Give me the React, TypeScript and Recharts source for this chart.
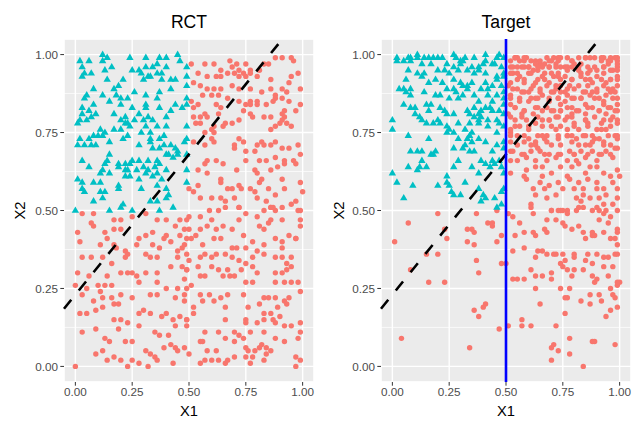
import React from 'react';
import { ScatterChart, Scatter, XAxis, YAxis, CartesianGrid, ReferenceLine } from 'recharts';

const majorTicks = [0, 0.25, 0.5, 0.75, 1];
const minorTicks = [0.125, 0.375, 0.625, 0.875];
const tickLabels = ['0.00', '0.25', '0.50', '0.75', '1.00'];
const panelTitles = ['RCT', 'Target'];
const xTitle = 'X1';
const yTitle = 'X2';
const lineIntercept = 0.23;
const lineSlope = 0.9;
const targetCut = 0.5;

const rctTeal: number[][] = [
  [0.02,0.98],[0.06,0.98],[0.12,1.00],[0.14,0.99],[0.24,0.99],[0.31,0.99],[0.37,0.99],[0.40,0.99],[0.45,1.00],[0.46,0.98],
  [0.03,0.96],[0.12,0.98],[0.16,0.96],[0.25,0.95],[0.28,0.95],[0.31,0.96],[0.34,0.96],[0.36,0.97],[0.40,0.96],
  [0.04,0.94],[0.07,0.94],[0.03,0.93],[0.13,0.95],[0.29,0.94],[0.32,0.93],[0.36,0.94],[0.38,0.94],[0.42,0.92],[0.44,0.92],[0.38,0.92],[0.33,0.93],
  [0.14,0.92],[0.21,0.92],[0.30,0.92],
  [0.08,0.89],[0.17,0.89],[0.19,0.90],[0.26,0.88],[0.37,0.88],[0.42,0.89],[0.49,0.90],
  [0.05,0.87],[0.04,0.86],[0.12,0.87],[0.18,0.87],[0.20,0.86],[0.23,0.86],[0.31,0.87],[0.36,0.86],
  [0.08,0.84],[0.15,0.85],[0.20,0.84],[0.31,0.84],[0.44,0.84],[0.47,0.83],[0.49,0.84],
  [0.03,0.83],[0.03,0.81],[0.06,0.82],[0.09,0.81],[0.25,0.83],[0.28,0.81],[0.31,0.83],[0.32,0.80],[0.37,0.83],[0.40,0.80],[0.42,0.82],
  [0.02,0.79],[0.07,0.80],[0.17,0.81],[0.22,0.80],[0.20,0.79],[0.23,0.78],[0.24,0.77],[0.26,0.79],[0.30,0.79],[0.34,0.79],[0.36,0.77],[0.40,0.77],
  [0.01,0.78],[0.05,0.79],[0.22,0.78],[0.31,0.77],
  [0.11,0.76],[0.13,0.75],[0.08,0.74],[0.10,0.74],[0.17,0.76],[0.20,0.76],[0.29,0.75],[0.33,0.75],[0.37,0.73],
  [0.02,0.73],[0.06,0.73],[0.12,0.74],[0.15,0.72],[0.21,0.73],[0.23,0.74],[0.33,0.73],[0.39,0.74],[0.39,0.71],[0.42,0.71],[0.44,0.70],
  [0.01,0.71],[0.04,0.71],[0.07,0.71],[0.09,0.71],[0.28,0.71],[0.33,0.72],[0.34,0.70],[0.37,0.70],[0.45,0.69],[0.41,0.68],
  [0.03,0.66],[0.15,0.68],[0.14,0.66],[0.13,0.65],[0.19,0.65],[0.22,0.65],[0.25,0.66],[0.24,0.65],[0.28,0.66],[0.32,0.66],[0.36,0.66],[0.40,0.68],[0.43,0.67],[0.45,0.68],
  [0.06,0.64],[0.12,0.63],[0.19,0.64],[0.22,0.63],[0.30,0.64],[0.32,0.63],[0.35,0.64],[0.37,0.65],
  [0.11,0.62],[0.15,0.62],[0.23,0.63],[0.27,0.63],[0.31,0.62],[0.36,0.62],[0.40,0.63],
  [0.01,0.60],[0.03,0.59],[0.08,0.59],[0.11,0.59],[0.19,0.58],[0.22,0.61],[0.24,0.61],[0.28,0.60],[0.34,0.61],[0.38,0.60],
  [0.03,0.57],[0.04,0.56],[0.11,0.56],[0.13,0.56],[0.19,0.57],[0.29,0.57],[0.36,0.58],[0.40,0.57],[0.41,0.55],
  [0.08,0.53],[0.12,0.54],[0.21,0.52],[0.33,0.53],[0.36,0.53],[0.40,0.54],
  [0.00,0.50],[0.15,0.50],[0.20,0.51],[0.25,0.50],[0.37,0.50],[0.43,0.51],
  [0.49,0.96],[0.49,0.93],[0.49,0.86],[0.49,0.77],[0.49,0.73],[0.48,0.72],[0.49,0.68],[0.49,0.63],[0.49,0.59],
];

const rctRed: number[][] = [
  [0.88,0.99],[0.91,0.99],[0.95,0.99],[0.96,0.98],
  [0.51,0.97],[0.57,0.97],[0.61,0.97],[0.64,0.95],[0.68,0.98],[0.69,0.96],[0.71,0.97],[0.75,0.97],[0.77,0.95],[0.81,0.95],[0.83,0.97],[0.85,0.97],[0.72,0.95],[0.70,0.94],[0.74,0.94],
  [0.54,0.94],[0.58,0.93],[0.62,0.93],[0.64,0.93],[0.67,0.94],[0.72,0.93],[0.75,0.93],[0.77,0.94],[0.80,0.93],[0.86,0.92],[0.95,0.93],[0.98,0.94],[0.94,0.91],
  [0.52,0.91],[0.55,0.90],[0.58,0.89],[0.61,0.89],[0.64,0.89],[0.69,0.90],[0.72,0.89],[0.77,0.89],[0.82,0.88],[0.86,0.89],[0.91,0.89],[0.93,0.88],[0.99,0.89],
  [0.56,0.87],[0.60,0.87],[0.63,0.87],[0.67,0.86],[0.77,0.85],[0.80,0.85],[0.88,0.87],[0.88,0.86],[0.91,0.86],[0.87,0.85],[0.94,0.85],
  [0.51,0.85],[0.54,0.84],[0.62,0.84],[0.64,0.83],[0.72,0.85],[0.75,0.84],[0.77,0.84],[0.80,0.84],[0.84,0.84],[0.99,0.84],[0.52,0.83],[0.97,0.82],[0.92,0.82],[0.91,0.81],[0.52,0.80],[0.57,0.81],[0.63,0.81],[0.74,0.82],[0.77,0.81],
  [0.55,0.80],[0.58,0.80],[0.66,0.78],[0.69,0.78],[0.72,0.79],[0.78,0.80],[0.83,0.80],[0.86,0.80],[0.92,0.80],[0.53,0.78],[0.55,0.78],[0.61,0.77],[0.65,0.77],[0.88,0.77],[0.90,0.78],[0.93,0.78],[0.91,0.79],[0.95,0.77],[0.57,0.75],[0.60,0.76],[0.61,0.75],[0.86,0.76],
  [0.60,0.73],[0.61,0.72],[0.57,0.71],[0.52,0.72],[0.70,0.71],[0.72,0.73],[0.74,0.72],[0.82,0.72],[0.86,0.71],[0.83,0.71],[0.80,0.71],[0.88,0.72],[0.70,0.70],[0.75,0.69],[0.79,0.69],[0.98,0.71],[0.99,0.68],[0.91,0.70],[0.94,0.70],
  [0.58,0.66],[0.62,0.66],[0.65,0.65],[0.57,0.65],[0.75,0.66],[0.81,0.66],[0.84,0.66],[0.88,0.67],[0.92,0.66],[0.97,0.65],[0.54,0.63],[0.58,0.62],[0.71,0.63],[0.79,0.63],[0.80,0.62],[0.86,0.63],[0.89,0.64],[0.92,0.65],[0.96,0.66],
  [0.50,0.57],[0.54,0.58],[0.52,0.56],[0.64,0.60],[0.64,0.59],[0.67,0.57],[0.69,0.57],[0.72,0.58],[0.73,0.57],[0.81,0.59],[0.82,0.60],[0.77,0.57],[0.85,0.57],[0.88,0.55],[0.91,0.60],[0.92,0.57],[0.99,0.59],[1.00,0.56],[0.79,0.56],
  [0.55,0.54],[0.60,0.54],[0.64,0.54],[0.66,0.53],[0.70,0.54],[0.72,0.51],[0.80,0.54],[0.84,0.53],[0.86,0.51],[0.95,0.52],[0.97,0.53],[0.99,0.50],[0.88,0.50],
  [0.03,0.49],[0.08,0.49],[0.17,0.47],[0.20,0.47],[0.25,0.48],[0.31,0.49],[0.36,0.47],[0.40,0.47],[0.46,0.47],[0.49,0.47],
  [0.01,0.43],[0.07,0.46],[0.08,0.45],[0.13,0.43],[0.17,0.44],[0.20,0.44],[0.28,0.41],[0.31,0.42],[0.34,0.43],[0.39,0.41],[0.40,0.42],[0.44,0.45],[0.46,0.42],[0.48,0.44],
  [0.02,0.40],[0.11,0.39],[0.14,0.41],[0.17,0.39],[0.18,0.38],[0.22,0.37],[0.23,0.36],[0.27,0.39],[0.34,0.39],[0.37,0.38],[0.42,0.40],[0.45,0.37],[0.47,0.38],[0.49,0.41],
  [0.03,0.35],[0.07,0.35],[0.12,0.35],[0.16,0.33],[0.22,0.35],[0.31,0.36],[0.33,0.35],[0.36,0.35],[0.45,0.35],[0.49,0.36],
  [0.01,0.30],[0.06,0.29],[0.14,0.29],[0.20,0.30],[0.23,0.30],[0.25,0.30],[0.27,0.29],[0.31,0.30],[0.36,0.30],[0.42,0.32],[0.47,0.32],[0.49,0.31],
  [0.00,0.26],[0.05,0.25],[0.10,0.26],[0.11,0.24],[0.13,0.26],[0.16,0.26],[0.20,0.23],[0.28,0.27],[0.36,0.27],[0.40,0.25],[0.45,0.25],[0.49,0.25],
  [0.03,0.23],[0.08,0.21],[0.12,0.22],[0.16,0.22],[0.17,0.20],[0.19,0.20],[0.25,0.22],[0.33,0.23],[0.36,0.23],[0.44,0.22],[0.48,0.23],
  [0.02,0.17],[0.05,0.17],[0.09,0.18],[0.12,0.19],[0.17,0.15],[0.20,0.15],[0.23,0.14],[0.28,0.17],[0.30,0.18],[0.33,0.17],[0.38,0.16],[0.40,0.17],[0.43,0.15],[0.46,0.16],[0.49,0.15],
  [0.03,0.11],[0.09,0.12],[0.13,0.09],[0.15,0.08],[0.19,0.12],[0.22,0.08],[0.25,0.08],[0.28,0.13],[0.35,0.11],[0.37,0.10],[0.41,0.10],[0.44,0.13],[0.49,0.13],
  [0.09,0.04],[0.12,0.05],[0.14,0.02],[0.17,0.03],[0.20,0.02],[0.25,0.02],[0.31,0.05],[0.33,0.04],[0.35,0.03],[0.39,0.06],[0.42,0.07],[0.44,0.06],[0.45,0.05],[0.48,0.06],
  [0.00,0.00],[0.23,0.00],[0.28,0.01],[0.32,0.00],[0.36,0.02],[0.43,0.01],
  [0.50,0.48],[0.55,0.48],[0.59,0.50],[0.63,0.50],[0.66,0.51],[0.72,0.51],[0.75,0.49],[0.80,0.48],[0.83,0.50],[0.86,0.51],[0.87,0.51],[0.91,0.51],[0.98,0.50],[0.99,0.47],[0.60,0.47],
  [0.50,0.44],[0.55,0.44],[0.58,0.45],[0.62,0.44],[0.65,0.45],[0.69,0.44],[0.72,0.47],[0.74,0.42],[0.81,0.45],[0.83,0.44],[0.85,0.46],[0.86,0.47],[0.91,0.47],[0.94,0.42],[0.97,0.41],[0.99,0.45],
  [0.51,0.41],[0.53,0.42],[0.56,0.39],[0.61,0.41],[0.64,0.41],[0.69,0.38],[0.71,0.38],[0.75,0.38],[0.78,0.40],[0.80,0.37],[0.83,0.39],[0.88,0.41],[0.91,0.40],[0.91,0.38],[0.97,0.41],
  [0.48,0.39],[0.50,0.34],[0.55,0.35],[0.57,0.36],[0.60,0.35],[0.62,0.36],[0.66,0.36],[0.69,0.35],[0.72,0.34],[0.75,0.33],[0.78,0.35],[0.83,0.36],[0.88,0.35],[0.91,0.35],[0.93,0.33],[0.95,0.35],
  [0.49,0.31],[0.54,0.32],[0.60,0.32],[0.63,0.31],[0.67,0.31],[0.73,0.31],[0.78,0.32],[0.80,0.30],[0.88,0.30],[0.91,0.30],[0.93,0.31],[0.95,0.32],
  [0.55,0.29],[0.57,0.29],[0.65,0.29],[0.68,0.29],[0.70,0.29],[0.75,0.27],[0.78,0.27],[0.88,0.27],[0.92,0.27],[0.95,0.27],[0.98,0.27],
  [0.48,0.28],[0.51,0.26],[0.55,0.23],[0.59,0.23],[0.64,0.22],[0.67,0.23],[0.74,0.23],[0.83,0.22],[0.85,0.22],[0.88,0.22],[0.92,0.21],[0.94,0.22],[0.99,0.24],
  [0.48,0.21],[0.52,0.19],[0.52,0.17],[0.56,0.21],[0.61,0.21],[0.66,0.19],[0.75,0.15],[0.76,0.19],[0.81,0.20],[0.83,0.17],[0.86,0.17],[0.89,0.19],[0.90,0.16],[0.93,0.20],
  [0.49,0.15],[0.57,0.11],[0.63,0.11],[0.66,0.15],[0.70,0.11],[0.72,0.10],[0.75,0.14],[0.77,0.11],[0.80,0.14],[0.83,0.15],[0.83,0.11],[0.87,0.15],[0.88,0.14],[0.92,0.13],[0.95,0.13],[0.99,0.14],[0.99,0.11],
  [0.55,0.08],[0.56,0.08],[0.58,0.05],[0.62,0.05],[0.66,0.09],[0.70,0.08],[0.74,0.09],[0.75,0.06],[0.76,0.05],[0.79,0.05],[0.81,0.06],[0.82,0.07],[0.84,0.06],[0.86,0.05],[0.88,0.09],[0.92,0.08],[0.98,0.09],
  [0.50,0.04],[0.55,0.01],[0.57,0.02],[0.60,0.02],[0.63,0.02],[0.66,0.01],[0.67,0.02],[0.70,0.03],[0.75,0.03],[0.77,0.01],[0.78,0.03],[0.83,0.02],[0.84,0.04],[0.97,0.00],[0.97,0.03],[0.99,0.02],
];

const targetTeal: number[][] = [
  [0.02,0.99],[0.02,0.98],[0.07,0.99],[0.08,0.99],[0.11,1.00],[0.11,0.99],[0.14,0.99],[0.16,0.99],[0.18,0.99],[0.20,0.99],[0.22,0.99],[0.27,1.00],[0.28,0.99],[0.30,0.98],[0.32,0.99],[0.36,0.99],[0.41,1.00],[0.41,0.98],[0.46,0.99],[0.47,1.00],
  [0.05,0.98],[0.08,0.98],[0.13,0.97],[0.17,0.97],[0.24,0.97],[0.27,0.96],[0.30,0.97],[0.31,0.98],[0.35,0.96],[0.38,0.96],[0.40,0.97],[0.44,0.97],[0.45,0.97],[0.48,0.96],
  [0.07,0.95],[0.11,0.94],[0.14,0.94],[0.13,0.93],[0.20,0.95],[0.23,0.95],[0.19,0.92],[0.25,0.94],[0.29,0.95],[0.27,0.92],[0.33,0.95],[0.36,0.94],[0.38,0.95],[0.41,0.94],[0.46,0.92],[0.46,0.93],[0.49,0.94],
  [0.06,0.92],[0.16,0.91],[0.22,0.91],[0.30,0.91],[0.33,0.90],[0.35,0.91],[0.41,0.91],[0.44,0.90],[0.48,0.90],[0.24,0.89],[0.27,0.89],[0.28,0.88],[0.31,0.90],[0.33,0.89],[0.39,0.89],[0.42,0.89],
  [0.05,0.89],[0.03,0.89],[0.06,0.88],[0.08,0.89],[0.08,0.87],[0.14,0.88],[0.19,0.87],[0.21,0.87],[0.29,0.86],[0.31,0.87],[0.36,0.87],[0.38,0.85],[0.42,0.87],[0.44,0.85],[0.46,0.87],[0.49,0.86],[0.25,0.86],
  [0.05,0.84],[0.08,0.83],[0.10,0.83],[0.15,0.84],[0.17,0.84],[0.16,0.82],[0.21,0.83],[0.24,0.81],[0.23,0.82],[0.27,0.81],[0.33,0.82],[0.34,0.81],[0.36,0.83],[0.39,0.82],[0.41,0.83],[0.43,0.83],[0.44,0.82],[0.47,0.82],[0.49,0.84],[0.49,0.81],[0.10,0.81],[0.12,0.80],[0.36,0.80],[0.38,0.81],[0.39,0.80],
  [0.13,0.79],[0.15,0.78],[0.18,0.78],[0.20,0.79],[0.21,0.78],[0.24,0.77],[0.25,0.76],[0.24,0.75],[0.29,0.78],[0.34,0.78],[0.38,0.78],[0.38,0.79],[0.42,0.79],[0.46,0.79],[0.47,0.78],[0.00,0.79],[0.00,0.76],[0.32,0.76],[0.35,0.75],[0.42,0.77],[0.46,0.75],[0.27,0.75],
  [0.07,0.74],[0.16,0.73],[0.18,0.68],[0.19,0.69],[0.08,0.69],[0.11,0.69],[0.13,0.69],[0.29,0.73],[0.33,0.73],[0.34,0.74],[0.35,0.72],[0.38,0.73],[0.32,0.71],[0.36,0.69],[0.44,0.69],[0.41,0.72],[0.46,0.71],[0.49,0.72],[0.27,0.70],[0.31,0.70],[0.34,0.69],
  [0.13,0.66],[0.17,0.68],[0.12,0.64],[0.07,0.64],[0.11,0.63],[0.15,0.64],[0.29,0.66],[0.27,0.64],[0.35,0.64],[0.38,0.62],[0.44,0.66],[0.41,0.65],[0.43,0.64],[0.45,0.65],[0.47,0.66],[0.48,0.64],[0.39,0.66],[0.00,0.62],
  [0.02,0.59],[0.09,0.58],[0.20,0.58],[0.24,0.61],[0.24,0.59],[0.25,0.58],[0.26,0.56],[0.32,0.59],[0.27,0.55],[0.30,0.55],[0.38,0.57],[0.40,0.55],[0.41,0.54],[0.45,0.54],[0.48,0.56],[0.05,0.54],[0.39,0.53],
  [0.46,0.51],[0.48,0.52],[0.49,0.99],[0.49,0.93],[0.49,0.88],[0.49,0.77],[0.49,0.70],[0.49,0.62],[0.49,0.57],
];

const targetRed: number[][] = [
  [0.54,0.99],[0.55,0.99],[0.58,0.98],[0.59,0.99],[0.63,0.98],[0.68,0.99],[0.71,0.99],[0.73,0.99],[0.74,0.99],[0.77,0.99],[0.79,0.98],[0.82,0.99],[0.85,0.99],[0.89,0.99],[0.93,0.99],[0.96,0.99],[0.99,0.99],[0.99,0.98],[0.52,0.98],[0.65,0.97],[0.69,0.98],[0.80,0.97],[0.92,0.98],[0.96,0.98],
  [0.52,0.96],[0.55,0.96],[0.58,0.96],[0.60,0.96],[0.62,0.95],[0.66,0.96],[0.69,0.96],[0.72,0.97],[0.74,0.96],[0.77,0.96],[0.79,0.96],[0.82,0.96],[0.86,0.96],[0.89,0.96],[0.93,0.96],[0.95,0.97],[0.99,0.96],[0.64,0.95],[0.77,0.95],[0.87,0.95],[0.97,0.95],
  [0.53,0.94],[0.56,0.93],[0.60,0.94],[0.64,0.92],[0.67,0.94],[0.71,0.93],[0.73,0.94],[0.76,0.93],[0.79,0.92],[0.83,0.94],[0.85,0.92],[0.90,0.93],[0.93,0.94],[0.96,0.92],[0.99,0.93],[0.52,0.91],[0.58,0.91],[0.69,0.91],[0.82,0.90],[0.88,0.91],[0.94,0.91],
  [0.51,0.90],[0.55,0.89],[0.62,0.90],[0.65,0.89],[0.68,0.90],[0.72,0.89],[0.74,0.90],[0.78,0.90],[0.86,0.90],[0.90,0.89],[0.93,0.90],[0.97,0.89],[0.99,0.90],[0.57,0.88],[0.60,0.88],[0.71,0.88],[0.76,0.88],[0.84,0.88],[0.88,0.88],[0.96,0.88],
  [0.52,0.87],[0.56,0.86],[0.63,0.86],[0.66,0.87],[0.69,0.86],[0.73,0.86],[0.77,0.87],[0.80,0.86],[0.83,0.86],[0.87,0.87],[0.91,0.86],[0.94,0.87],[0.99,0.86],[0.52,0.84],[0.60,0.85],[0.74,0.84],[0.85,0.84],[0.93,0.84],
  [0.54,0.83],[0.58,0.82],[0.64,0.83],[0.68,0.83],[0.70,0.82],[0.74,0.82],[0.77,0.83],[0.79,0.83],[0.82,0.82],[0.88,0.83],[0.91,0.82],[0.96,0.83],[0.99,0.82],[0.51,0.81],[0.57,0.81],[0.62,0.81],[0.72,0.80],[0.79,0.81],[0.85,0.81],[0.94,0.81],
  [0.54,0.79],[0.59,0.79],[0.63,0.78],[0.66,0.79],[0.69,0.79],[0.76,0.79],[0.80,0.78],[0.85,0.79],[0.86,0.78],[0.92,0.78],[0.96,0.79],[0.99,0.78],[0.52,0.76],[0.56,0.77],[0.60,0.76],[0.72,0.76],[0.77,0.76],[0.82,0.76],[0.90,0.76],[0.94,0.76],[0.52,0.75],
  [0.55,0.74],[0.60,0.73],[0.66,0.74],[0.68,0.74],[0.73,0.73],[0.77,0.74],[0.81,0.73],[0.85,0.74],[0.88,0.74],[0.91,0.73],[0.98,0.74],[0.99,0.73],[0.52,0.72],[0.58,0.72],[0.63,0.72],[0.68,0.72],[0.79,0.72],[0.85,0.71],[0.88,0.72],[0.93,0.72],[0.96,0.71],[0.99,0.70],[0.63,0.71],
  [0.52,0.69],[0.57,0.68],[0.61,0.69],[0.65,0.69],[0.69,0.68],[0.74,0.68],[0.78,0.69],[0.80,0.68],[0.83,0.69],[0.88,0.69],[0.91,0.68],[0.94,0.69],[0.55,0.66],[0.59,0.67],[0.63,0.66],[0.68,0.66],[0.72,0.67],[0.77,0.66],[0.81,0.66],[0.85,0.67],[0.90,0.66],[0.97,0.67],[0.52,0.66],
  [0.52,0.62],[0.59,0.63],[0.63,0.64],[0.66,0.64],[0.70,0.62],[0.74,0.64],[0.79,0.64],[0.82,0.65],[0.87,0.64],[0.90,0.64],[0.93,0.62],[0.99,0.63],[1.00,0.61],[0.58,0.61],[0.66,0.61],[0.77,0.61],[0.85,0.62],[0.96,0.61],
  [0.59,0.60],[0.65,0.59],[0.69,0.58],[0.73,0.59],[0.78,0.60],[0.82,0.59],[0.86,0.60],[0.90,0.59],[0.93,0.57],[0.97,0.59],[0.62,0.57],[0.67,0.57],[0.75,0.57],[0.80,0.57],[0.84,0.57],[0.90,0.57],[0.99,0.57],
  [0.63,0.55],[0.68,0.54],[0.72,0.55],[0.81,0.54],[0.84,0.55],[0.87,0.54],[0.91,0.54],[0.94,0.55],[0.99,0.54],[0.61,0.52],[0.70,0.50],[0.74,0.50],[0.77,0.50],[0.83,0.53],[0.93,0.52],[0.97,0.52],[0.88,0.50],
  [0.07,0.46],[0.20,0.49],[0.37,0.49],[0.42,0.46],[0.44,0.45],[0.44,0.46],[0.46,0.50],[0.33,0.44],[0.35,0.44],[0.36,0.43],[0.23,0.44],[0.24,0.41],[0.33,0.40],[0.36,0.39],[0.46,0.40],[0.48,0.42],[0.01,0.40],[0.15,0.36],[0.20,0.36],[0.37,0.34],[0.48,0.33],[0.08,0.31],[0.38,0.30],[0.16,0.27],[0.23,0.27],[0.41,0.20],[0.36,0.18],[0.40,0.19],[0.38,0.16],[0.47,0.12],[0.04,0.09],[0.34,0.06],
  [0.61,0.51],[0.70,0.50],[0.73,0.50],[0.75,0.50],[0.77,0.49],[0.81,0.50],[0.82,0.51],[0.84,0.51],[0.90,0.51],[0.91,0.50],[0.94,0.50],[0.99,0.50],[0.51,0.49],[0.53,0.48],[0.62,0.49],[0.68,0.47],[0.72,0.47],[0.75,0.46],[0.76,0.45],[0.79,0.44],[0.82,0.45],[0.84,0.43],[0.88,0.42],[0.91,0.47],[0.93,0.49],[0.96,0.48],[0.95,0.46],[0.56,0.46],
  [0.54,0.42],[0.58,0.43],[0.62,0.43],[0.63,0.42],[0.67,0.44],[0.68,0.43],[0.85,0.41],[0.88,0.43],[0.89,0.42],[0.93,0.43],[0.96,0.41],[0.98,0.41],[0.99,0.44],[0.99,0.43],[0.99,0.39],
  [0.50,0.33],[0.53,0.37],[0.58,0.38],[0.64,0.37],[0.66,0.37],[0.68,0.36],[0.71,0.36],[0.72,0.36],[0.75,0.36],[0.74,0.33],[0.76,0.34],[0.80,0.36],[0.80,0.35],[0.86,0.36],[0.90,0.36],[0.88,0.33],[0.93,0.35],[0.95,0.35],[0.98,0.36],[0.99,0.36],
  [0.75,0.32],[0.77,0.31],[0.85,0.34],[0.84,0.31],[0.80,0.31],[0.79,0.29],[0.93,0.32],[0.97,0.32],[0.63,0.35],[0.61,0.31],[0.63,0.29],[0.66,0.29],[0.70,0.30],[0.70,0.28],[0.53,0.28],[0.55,0.28],[0.58,0.28],
  [0.88,0.29],[0.90,0.28],[0.89,0.27],[0.95,0.29],[1.00,0.27],[0.99,0.26],[0.99,0.27],[0.96,0.25],[0.63,0.25],[0.74,0.25],[0.78,0.25],[0.76,0.22],[0.77,0.22],[0.87,0.23],[0.91,0.23],[0.97,0.23],[0.98,0.22],
  [0.83,0.21],[0.87,0.20],[0.92,0.21],[0.96,0.18],[0.94,0.16],[0.99,0.19],[0.65,0.20],[0.76,0.17],[0.57,0.15],[0.57,0.13],[0.61,0.13],[0.51,0.13],[0.72,0.13],[0.78,0.09],[0.88,0.08],[0.89,0.08],[0.98,0.07],[0.70,0.06],[0.71,0.07],[0.73,0.05],[0.78,0.04],[0.70,0.02],[0.84,0.00],
  [0.54,0.99],[0.56,0.98],[0.58,0.99],[0.61,0.98],[0.63,0.97],[0.65,0.98],[0.67,0.97],[0.70,0.98],[0.73,0.98],[0.53,0.96],[0.57,0.96],[0.60,0.96],[0.64,0.96],[0.69,0.96],[0.72,0.96],[0.76,0.96],[0.52,0.94],[0.55,0.94],[0.61,0.94],[0.66,0.93],[0.70,0.94],[0.73,0.93],[0.55,0.92],[0.58,0.92],[0.63,0.91],[0.67,0.92],[0.72,0.90],[0.74,0.92],
  [0.53,0.89],[0.58,0.88],[0.61,0.89],[0.65,0.88],[0.70,0.88],[0.74,0.88],[0.77,0.89],[0.52,0.86],[0.56,0.85],[0.61,0.86],[0.64,0.86],[0.69,0.85],[0.73,0.86],[0.76,0.85],[0.54,0.83],[0.58,0.82],[0.63,0.83],[0.66,0.82],[0.71,0.82],[0.74,0.82],
  [0.52,0.80],[0.57,0.80],[0.64,0.80],[0.69,0.79],[0.73,0.80],[0.77,0.80],[0.54,0.77],[0.60,0.77],[0.66,0.77],[0.70,0.77],[0.74,0.77],[0.52,0.74],[0.58,0.74],[0.64,0.74],[0.67,0.73],[0.73,0.74],[0.77,0.74],[0.55,0.71],[0.61,0.71],[0.64,0.70],[0.70,0.71],[0.74,0.71],[0.53,0.69],[0.58,0.68],[0.67,0.68],[0.73,0.68],
  [0.79,0.98],[0.83,0.97],[0.85,0.99],[0.87,0.99],[0.92,0.99],[0.95,0.98],[0.98,0.99],[0.99,0.97],[0.82,0.95],[0.86,0.94],[0.90,0.95],[0.93,0.96],[0.96,0.95],[0.99,0.95],[0.79,0.92],[0.83,0.93],[0.87,0.92],[0.92,0.92],[0.96,0.92],[0.99,0.92],
  [0.80,0.89],[0.85,0.88],[0.90,0.88],[0.95,0.89],[0.98,0.88],[0.79,0.86],[0.83,0.86],[0.89,0.86],[0.93,0.85],[0.97,0.86],[0.99,0.84],[0.81,0.82],[0.86,0.83],[0.91,0.82],[0.95,0.83],[0.98,0.82],[0.79,0.80],[0.85,0.79],[0.89,0.80],[0.93,0.79],[0.97,0.80],[0.99,0.79],
  [0.80,0.77],[0.86,0.77],[0.92,0.76],[0.96,0.77],[0.79,0.74],[0.84,0.74],[0.89,0.73],[0.95,0.74],[0.99,0.74],[0.82,0.71],[0.87,0.71],[0.93,0.71],[0.98,0.70],[0.80,0.68],[0.86,0.68],[0.92,0.68],[0.96,0.68],
];

const RED = '#F8766D';
const TEAL = '#00BFC4';
const FONT = '"Liberation Sans", Arial, sans-serif';
const DOMAIN: [number, number] = [-0.05, 1.05];

const toPoints = (arr: number[][]) => arr.map(([x, y]) => ({ x, y }));

const DotShape = (props: any) => {
  const { cx, cy } = props;
  if (cx == null || cy == null) return null;
  return <circle cx={cx} cy={cy} r={2.7} fill={RED} />;
};

const TriShape = (props: any) => {
  const { cx, cy } = props;
  if (cx == null || cy == null) return null;
  const pts = `${cx},${cy - 4.1} ${cx - 3.7},${cy + 2.3} ${cx + 3.7},${cy + 2.3}`;
  return <polygon points={pts} fill={TEAL} />;
};

const fmt = (v: number) => {
  const i = majorTicks.indexOf(v);
  return i >= 0 ? tickLabels[i] : '';
};

type PanelProps = {
  red: number[][];
  teal: number[][];
  showCut: boolean;
  width: number;
  left: number;
  marginLeft: number;
  marginRight: number;
};

const Panel = ({ red, teal, showCut, width, left, marginLeft, marginRight }: PanelProps) => {
  const lineStart = { x: DOMAIN[0], y: lineIntercept + lineSlope * DOMAIN[0] };
  const lineEnd = { x: (DOMAIN[1] - lineIntercept) / lineSlope, y: DOMAIN[1] };
  const tickStyle = { fill: '#4D4D4D', fontSize: 11.7, fontFamily: FONT };
  return (
    <div style={{ position: 'absolute', left, top: 0 }}>
      <ScatterChart
        width={width}
        height={425}
        margin={{ top: 39, right: marginRight, bottom: 13, left: marginLeft }}
      >
        <CartesianGrid fill="#EBEBEB" stroke="#FFFFFF" strokeWidth={1.4} />
        <CartesianGrid xAxisId="minor" yAxisId="minor" stroke="#FFFFFF" strokeWidth={0.7} />
        <XAxis
          dataKey="x"
          type="number"
          domain={DOMAIN}
          allowDataOverflow
          ticks={majorTicks}
          interval={0}
          tickFormatter={fmt}
          axisLine={false}
          tickLine={{ stroke: '#333333', strokeWidth: 1 }}
          tickSize={3.7}
          tickMargin={2}
          tick={tickStyle}
          height={30}
        />
        <YAxis
          dataKey="y"
          type="number"
          domain={DOMAIN}
          allowDataOverflow
          ticks={majorTicks}
          interval={0}
          tickFormatter={fmt}
          axisLine={false}
          tickLine={{ stroke: '#333333', strokeWidth: 1 }}
          tickSize={3.7}
          tickMargin={2.2}
          tick={tickStyle}
          width={40}
        />
        <XAxis xAxisId="minor" type="number" domain={DOMAIN} allowDataOverflow ticks={minorTicks} interval={0} hide />
        <YAxis yAxisId="minor" type="number" domain={DOMAIN} allowDataOverflow ticks={minorTicks} interval={0} hide />
        <Scatter data={toPoints(red)} fill={RED} shape={DotShape} isAnimationActive={false} />
        <Scatter data={toPoints(teal)} fill={TEAL} shape={TriShape} isAnimationActive={false} />
        <ReferenceLine
          segment={[lineStart, lineEnd]}
          stroke="#000000"
          strokeWidth={2.6}
          strokeDasharray="11.5 12"
          ifOverflow="visible"
          zIndex={1000}
        />
        {showCut && (
          <ReferenceLine x={targetCut} stroke="#0000FF" strokeWidth={2.6} zIndex={1001} />
        )}
      </ScatterChart>
    </div>
  );
};

export default function App() {
  return (
    <div style={{ position: 'absolute', left: 0, top: 0, width: 635, height: 425, background: '#FFFFFF', overflow: 'hidden' }}>
      <Panel red={rctRed} teal={rctTeal} showCut={false} width={320} left={0} marginLeft={24} marginRight={6} />
      <Panel red={targetRed} teal={targetTeal} showCut={true} width={315} left={320} marginLeft={21} marginRight={4} />
      <svg width={635} height={425} style={{ position: 'absolute', left: 0, top: 0, pointerEvents: 'none' }}>
        <g fontFamily={FONT} fill="#000000">
          <text x={189} y={28} textAnchor="middle" fontSize={17.6}>{panelTitles[0]}</text>
          <text x={506} y={28} textAnchor="middle" fontSize={17.6}>{panelTitles[1]}</text>
          <text x={189} y={416} textAnchor="middle" fontSize={14.7}>{xTitle}</text>
          <text x={506} y={416} textAnchor="middle" fontSize={14.7}>{xTitle}</text>
          <text x={25} y={210.5} textAnchor="middle" fontSize={14.7} transform="rotate(-90 25 210.5)">{yTitle}</text>
          <text x={344} y={210.5} textAnchor="middle" fontSize={14.7} transform="rotate(-90 344 210.5)">{yTitle}</text>
        </g>
      </svg>
    </div>
  );
}
